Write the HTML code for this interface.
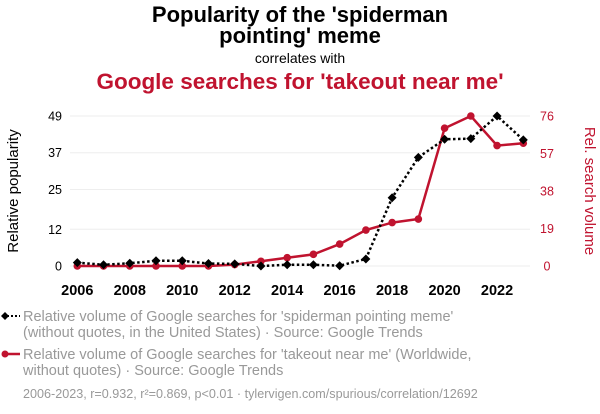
<!DOCTYPE html>
<html><head><meta charset="utf-8"><style>
body{margin:0;width:600px;height:414px;background:#fff;font-family:"Liberation Sans",sans-serif;overflow:hidden}
svg{position:absolute;left:0;top:0}
</style></head><body>
<svg id="c" width="600" height="414">
<text x="300" y="22" text-anchor="middle" font-size="22" font-weight="bold" fill="#000">Popularity of the 'spiderman</text>
<text x="300" y="43" text-anchor="middle" font-size="22" font-weight="bold" fill="#000">pointing' meme</text>
<text x="300" y="63" text-anchor="middle" font-size="14" fill="#000">correlates with</text>
<text x="300" y="89" text-anchor="middle" font-size="22.5" font-weight="bold" fill="#c0132f">Google searches for 'takeout near me'</text>
<text transform="translate(18,191) rotate(-90)" text-anchor="middle" font-size="15" fill="#000">Relative popularity</text>
<text transform="translate(585,191) rotate(90)" text-anchor="middle" font-size="15" fill="#c0132f">Rel. search volume</text>
<g id="grid"></g><g id="axes"></g><g id="marks"></g>
<g>
<line x1="3" y1="316" x2="20" y2="316" stroke="#000" stroke-width="2" stroke-dasharray="2,2"/>
<path d="M1 316 L5 312 L9 316 L5 320Z" fill="#000"/>
<text x="23" y="321" font-size="14.5" fill="#999">Relative volume of Google searches for 'spiderman pointing meme'</text>
<text x="23" y="337" font-size="14.5" fill="#999">(without quotes, in the United States) · Source: Google Trends</text>
<line x1="3" y1="354" x2="20" y2="354" stroke="#c0132f" stroke-width="2.5"/>
<circle cx="5" cy="354" r="3.5" fill="#c0132f"/>
<text x="23" y="359" font-size="14.5" fill="#999">Relative volume of Google searches for 'takeout near me' (Worldwide,</text>
<text x="23" y="375" font-size="14.5" fill="#999">without quotes) · Source: Google Trends</text>
<text x="23" y="398" font-size="12.6" fill="#999">2006-2023, r=0.932, r²=0.869, p&lt;0.01 · tylervigen.com/spurious/correlation/12692</text>
</g>
</svg>
<script>
const years=[2006,2007,2008,2009,2010,2011,2012,2013,2014,2015,2016,2017,2018,2019,2020,2021,2022,2023];
const spiderman=[1.1,0.4,0.9,1.7,1.7,0.8,0.7,0,0.4,0.4,0.1,2.3,22.3,35.5,41.4,41.6,49,41.2];
const takeout=[0,0,0,0,0,0,0.7,2.4,4.2,5.9,11.1,18.2,22,23.8,69.8,76,61,62.2];
const leftTicks=[0,12,25,37,49];
const rightTicks=[0,19,38,57,76];
const xTicks=[2006,2008,2010,2012,2014,2016,2018,2020,2022];
const NS="http://www.w3.org/2000/svg";
const x=v=>77.3+(v-2006)*(523.3-77.3)/17;
const yL=v=>266-v*150/49;
const yR=v=>266-v*150/76;
function mk(p,t,a){const e=document.createElementNS(NS,t);for(const k in a)e.setAttribute(k,a[k]);p.appendChild(e);return e;}
const grid=document.getElementById('grid'),axes=document.getElementById('axes'),marks=document.getElementById('marks');
leftTicks.forEach((t,i)=>{
  const l=mk(grid,'line',{x1:70,x2:530,y1:yL(t),y2:yL(t),stroke:'#eee','stroke-width':1});
  
  
  const tx=mk(axes,'text',{x:62,y:yL(t)+4.5,'text-anchor':'end','font-size':12.5,fill:'#000'});tx.textContent=t;
  
  
});
rightTicks.forEach(t=>{
  const tx=mk(axes,'text',{x:547,y:yR(t)+4.5,'text-anchor':'middle','font-size':12.5,fill:'#c0132f'});tx.textContent=t;
  
  
});
xTicks.forEach(t=>{
  const tx=mk(axes,'text',{x:x(t),y:295,'text-anchor':'middle','font-size':14.5,'font-weight':'bold',fill:'#000'});tx.textContent=t;
  
  
});
const rl=mk(marks,'polyline',{points:years.map((y,i)=>x(y)+','+yR(takeout[i])).join(' '),fill:'none',stroke:'#c0132f','stroke-width':2.5});


years.forEach((y,i)=>{
  const c=mk(marks,'circle',{cx:x(y),cy:yR(takeout[i]),r:3.8,fill:'#c0132f'});
  
  
});
const bl=mk(marks,'polyline',{points:years.map((y,i)=>x(y)+','+yL(spiderman[i])).join(' '),fill:'none',stroke:'#000','stroke-width':2.5,'stroke-dasharray':'2.5,2.5'});


years.forEach((y,i)=>{
  const cx=x(y),cy=yL(spiderman[i]);
  const d=mk(marks,'path',{d:`M${cx-4.5} ${cy} L${cx} ${cy-4.5} L${cx+4.5} ${cy} L${cx} ${cy+4.5}Z`,fill:'#000'});
  
  
});
</script>
</body></html>
